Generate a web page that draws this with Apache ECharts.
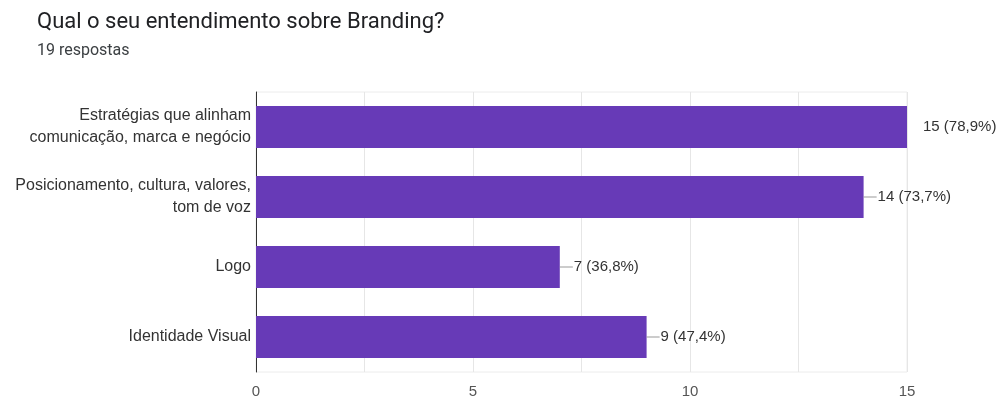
<!DOCTYPE html>
<html>
<head>
<meta charset="utf-8">
<script src="https://cdn.jsdelivr.net/npm/echarts@6/dist/echarts.min.js"></script>
<style>
  html, body { margin: 0; padding: 0; background: #fff; }
  #chart { width: 1004px; height: 396px; }
</style>
</head>
<body>
<div id="chart"></div>
<script>
// Survey answers and response counts
const categories = [
  'Estratégias que alinham\ncomunicação, marca e negócio',
  'Posicionamento, cultura, valores,\ntom de voz',
  'Logo',
  'Identidade Visual'
];
const counts = [15, 14, 7, 9];
const percents = ['78,9%', '73,7%', '36,8%', '47,4%'];
const xTicks = [0, 5, 10, 15];

const TITLE_FONT = 'Roboto, sans-serif';
const FONT = 'Arial, "Liberation Sans", sans-serif';

const chart = echarts.init(document.getElementById('chart'), null, { renderer: 'canvas' });

const seriesData = counts.map((v, i) => {
  const text = v + ' (' + percents[i] + ')';
  // the longest bar reaches the axis end, so its label sits free without a leader
  if (i === 0) {
    return { value: v, label: { formatter: '{t|' + text + '}', distance: 15 } };
  }
  return { value: v, label: { formatter: '{l|}{t|' + text + '}', distance: 0 } };
});

chart.setOption({
  animation: false,
  title: {
    text: 'Qual o seu entendimento sobre Branding?',
    subtext: '19 respostas',
    left: 32,
    top: 6,
    itemGap: 10,
    textStyle: { fontFamily: TITLE_FONT, fontSize: 22, fontWeight: 'normal', color: '#202124' },
    subtextStyle: { fontFamily: TITLE_FONT, fontSize: 16, color: '#3c4043' }
  },
  grid: {
    left: 256, right: 97, top: 92, bottom: 24,
    outerBoundsMode: 'none',
    show: true, borderColor: '#ececec', borderWidth: 1
  },
  xAxis: {
    type: 'value',
    min: xTicks[0],
    max: xTicks[xTicks.length - 1],
    interval: xTicks[1] - xTicks[0],
    axisLine: { show: false },
    axisTick: { show: false },
    axisLabel: { fontFamily: FONT, fontSize: 15, color: '#555', margin: 12 },
    splitLine: { lineStyle: { color: '#e6e6e6' } },
    minorTick: { show: false, splitNumber: 2 },
    minorSplitLine: { show: true, lineStyle: { color: '#e6e6e6' } }
  },
  yAxis: {
    type: 'category',
    inverse: true,
    data: categories,
    axisLine: { show: true, lineStyle: { color: '#333', width: 1 } },
    axisTick: { show: false },
    axisLabel: { fontFamily: FONT, fontSize: 16, color: '#333', lineHeight: 22, margin: 5, align: 'right' }
  },
  series: [{
    type: 'bar',
    data: seriesData,
    barCategoryGap: '40%',
    itemStyle: { color: '#673ab7' },
    label: {
      show: true,
      position: 'right',
      rich: {
        l: { width: 13, height: 0, borderColor: '#888', borderWidth: 0.5, verticalAlign: 'middle' },
        t: { fontFamily: FONT, fontSize: 15, color: '#333', padding: [0, 0, 0, 1] }
      }
    }
  }]
});
</script>
</body>
</html>
